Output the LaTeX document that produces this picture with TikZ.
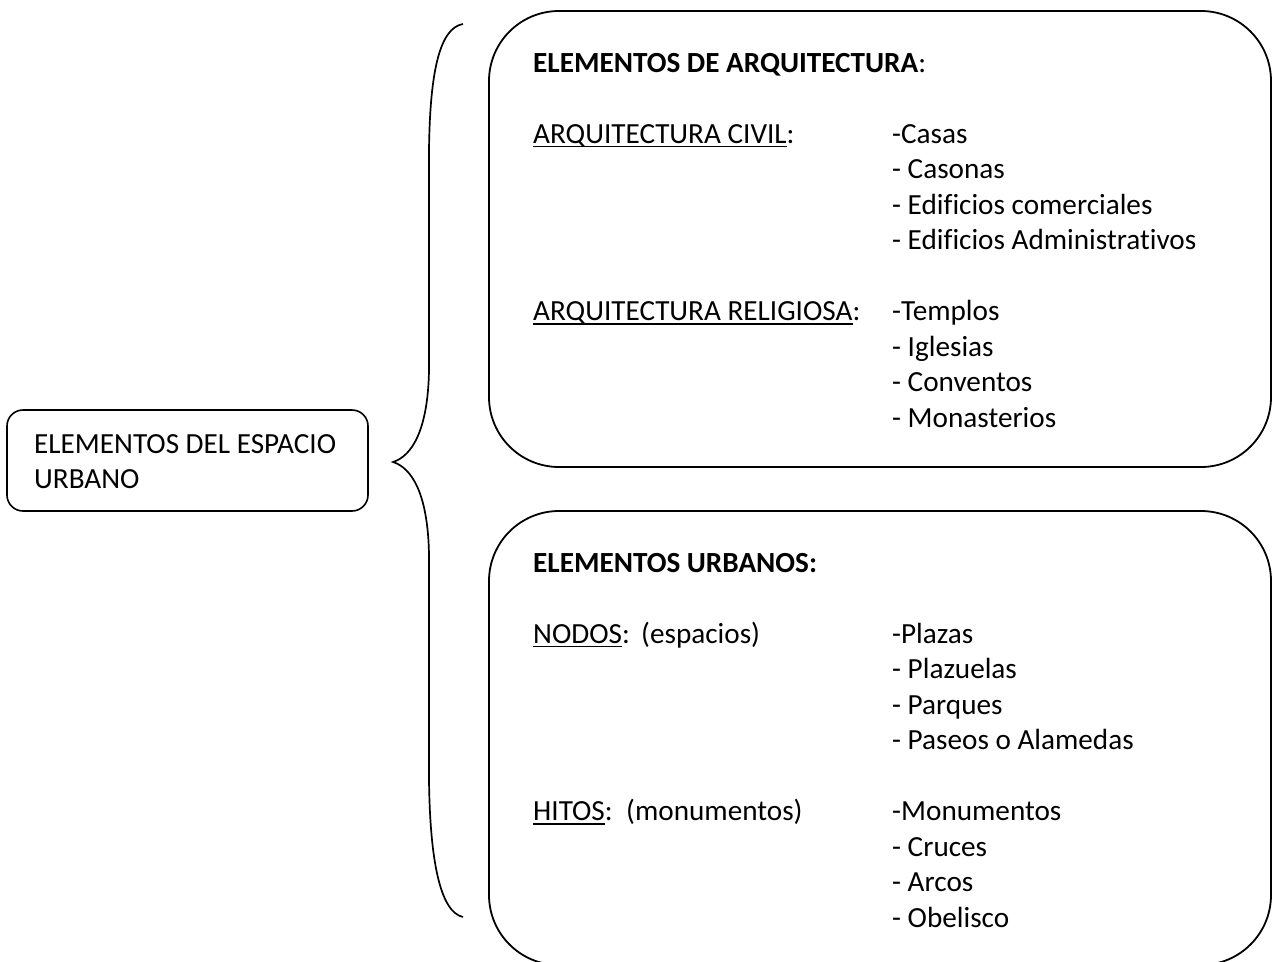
\documentclass[tikz,border=0pt]{standalone}
\usepackage{fontspec}
\setmainfont[Ligatures=CommonOff]{Carlito}
\newcommand\ulin[1]{\setbox0\hbox{#1}\rlap{\rule[-4.3pt]{\wd0}{1.8pt}}\box0}
\begin{document}
\begin{tikzpicture}[x=1pt,y=-1pt,
  txt/.style={anchor=base west,inner sep=0pt,font=\fontsize{29.2}{35.5}\selectfont},
  bigbox/.style={draw,line width=1.8pt,rounded corners=70pt,minimum width=782pt,inner sep=0pt},
  smallbox/.style={draw,line width=1.6pt,rounded corners=16pt,inner sep=0pt},
  bracel/.style={draw,line width=1.7pt}]
\useasboundingbox (0,0) rectangle (1274,961);
\clip (0,0) rectangle (1274,961);
% boxes
\node[smallbox,minimum width=361pt,minimum height=101pt] (root) at (187.5,460.5) {};
\node[bigbox,minimum height=456pt] (arq) at (880,239) {};
\node[bigbox,minimum height=454pt] (urb) at (880,738) {};
% root text
\node[txt] (r1) at (34,453) {ELEMENTOS DEL ESPACIO};
\node[txt] (r2) at (34,488.5) {URBANO};
% brace
\coordinate (btop) at (463,24);
\coordinate (bmid) at (393,462);
\coordinate (bbot) at (463,917);
\draw[bracel] (btop) .. controls (440,28) and (430,70) .. (429,150) -- (429,370)
  .. controls (428,430) and (412,456) .. (bmid)
  .. controls (412,468) and (428,494) .. (429,555) -- (429,780)
  .. controls (430,860) and (440,912) .. (bbot);
% top box text
\node[txt] (h1) at (533,72) {\textbf{ELEMENTOS DE ARQUITECTURA}:};
\node[txt] (civ) at (533,143) {\ulin{ARQUITECTURA CIVIL}:};
\node[txt] (c1) at (892,143) {-Casas};
\node[txt] (c2) at (892,178.5) {- Casonas};
\node[txt] (c3) at (892,214) {- Edificios comerciales};
\node[txt] (c4) at (892,249.5) {- Edificios Administrativos};
\node[txt] (rel) at (533,320.5) {\ulin{ARQUITECTURA RELIGIOSA}:};
\node[txt] (t1) at (892,320.5) {-Templos};
\node[txt] (t2) at (892,356) {- Iglesias};
\node[txt] (t3) at (892,391.5) {- Conventos};
\node[txt] (t4) at (892,427) {- Monasterios};
% bottom box text
\node[txt] (h2) at (533,572) {\textbf{ELEMENTOS URBANOS:}};
\node[txt] (nod) at (533,643) {\ulin{NODOS}:};
\node[txt] (nodp) at (641,643) {(espacios)};
\node[txt] (n1) at (892,643) {-Plazas};
\node[txt] (n2) at (892,678.5) {- Plazuelas};
\node[txt] (n3) at (892,714) {- Parques};
\node[txt] (n4) at (892,749.5) {- Paseos o Alamedas};
\node[txt] (hit) at (533,820.5) {\ulin{HITOS}:};
\node[txt] (hitp) at (626,820.5) {(monumentos)};
\node[txt] (m1) at (892,820.5) {-Monumentos};
\node[txt] (m2) at (892,856) {- Cruces};
\node[txt] (m3) at (892,891.5) {- Arcos};
\node[txt] (m4) at (892,927) {- Obelisco};
\end{tikzpicture}
\end{document}
